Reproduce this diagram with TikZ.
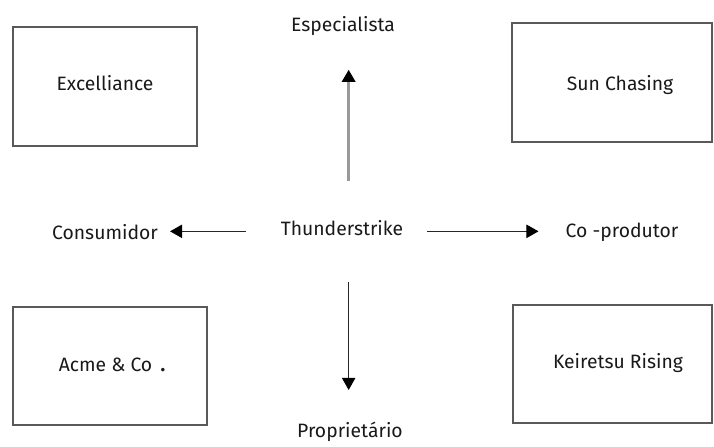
\documentclass[tikz,border=0pt]{standalone}
\usepackage{fontspec}
\setmainfont{Fira Sans}
\usetikzlibrary{arrows.meta}

\begin{document}
\begin{tikzpicture}[x=0.3mm, y=-0.3mm,
        every node/.style={inner sep=0pt, text=black!90, font=\fontsize{16.5}{19}\selectfont},
        quadrant/.style={draw=black!65, line width=1.2pt},
        axis/.style={draw=black!85, line width=0.8pt, -{Triangle[width=4mm, length=3.6mm, color=black]}}]
        \useasboundingbox (0, 0) rectangle (714, 447);
        \draw [quadrant] (13, 27) rectangle (197, 146);
        \draw [quadrant] (512, 23) rectangle (712, 142);
        \draw [quadrant] (13, 307) rectangle (207, 425);
        \draw [quadrant] (513, 305) rectangle (712, 423);
        \node (excel) at (105, 83) {Excelliance};
        \node (sun) at (620, 85) {Sun Chasing};
        \node (acme) at (112, 365) {Acme \& Co\hspace{2.5mm}\textbf{.}};
        \node (keiretsu) at (618, 363) {Keiretsu Rising};
        \node (thunder) at (342, 228) {Thunderstrike};
        \node (espec) at (343, 26) {Especialista};
        \node (propr) at (350, 432) {Proprietário};
        \node (consum) at (105, 232) {Consumidor};
        \node (coprod) at (622, 232) {Co -produtor};
        \draw [axis, draw=black!40, line width=2pt, shorten <=11.7mm, shorten >=10.2mm]
([xshift=2mm]thunder.north) -- ([xshift=2mm]thunder.north |- espec.south);
        \draw [axis, shorten <=13.8mm, shorten >=9.6mm]
([xshift=2mm]thunder.south) -- ([xshift=2mm]thunder.south |- propr.north);
        \draw [axis, shorten <=10.5mm, shorten >=3.6mm]
([yshift=-1mm]thunder.west) -- ([yshift=-1mm]consum.east |- thunder.west);
        \draw [axis, shorten <=7.2mm, shorten >=8.1mm]
([yshift=-1mm]thunder.east) -- ([yshift=-1mm]coprod.west |- thunder.east);
    \end{tikzpicture}
\end{document}
